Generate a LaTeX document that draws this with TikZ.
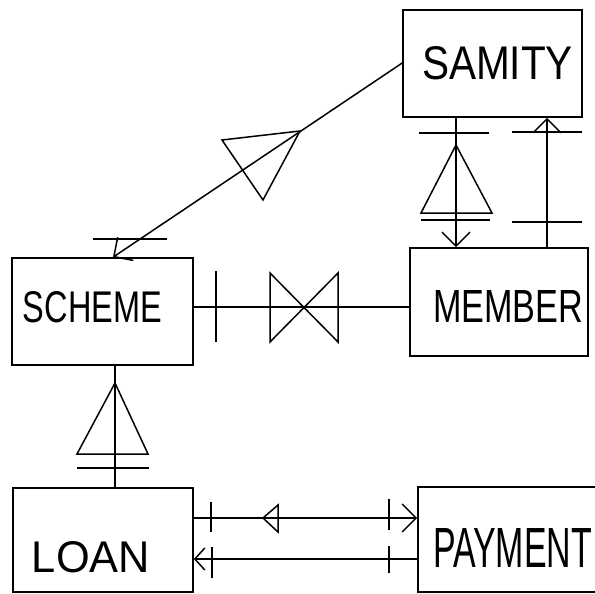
\documentclass[tikz,border=0pt]{standalone}
\usepackage{fontspec}
\setmainfont{Liberation Sans}
\usepackage{graphicx}
\usetikzlibrary{arrows.meta,calc}
\tikzset{
  ent/.style={draw=black, line width=1.6pt, rectangle, inner sep=0pt},
  lbl/.style={inner sep=0pt, anchor=center, font=\fontsize{40}{40}\selectfont},
  con/.style={line width=1.5pt, draw=black},
  arr/.style={con, -{Straight Barb[length=14pt,width=28pt,line width=1.5pt]}},
  sarr/.style={con, -{Straight Barb[length=10pt,width=22pt,line width=1.5pt]}},
  symb/.style={line width=1.5pt, draw=black},
}
\newcommand{\hw}[3]{\resizebox{#1pt}{#2pt}{#3}}
\begin{document}
\begin{tikzpicture}[x=1pt,y=-1pt]
\useasboundingbox (0,0) rectangle (595,594);
% entities
\node[ent, minimum width=179pt, minimum height=107pt] (samity) at (492.5,63.5) {};
\node[ent, minimum width=181pt, minimum height=107pt] (scheme) at (102.5,311.5) {};
\node[ent, minimum width=178pt, minimum height=108pt] (member) at (499,302) {};
\node[ent, minimum width=180pt, minimum height=104pt] (loan) at (103,540) {};
\node[ent, minimum width=190pt, minimum height=105pt] (payment) at (513,539.5) {};
% labels
\node[lbl] (samityL) at (497.5,63.5) {\hw{151}{33}{SAMITY}};
\node[lbl] (schemeL) at (92.5,307.5) {\hw{139}{31}{SCHEME}};
\node[lbl] (memberL) at (508,306) {\hw{150}{32}{MEMBER}};
\node[lbl] (loanL) at (91,557.5) {\hw{118}{31}{LOAN}};
\node[lbl] (paymentL) at (512.5,547.5) {\hw{159}{39}{PAYMENT}};
% helper coordinates
\coordinate (sa) at (403,63);
\coordinate (sb) at (113,258);
\coordinate (xl) at (456,0);
\coordinate (xr) at (547,0);
\coordinate (ys) at (0,307);
\coordinate (xd) at (115,0);
\coordinate (yu) at (0,518);
\coordinate (yd) at (0,559);
% SAMITY -> SCHEME
\draw[arr] (samity.west |- sa) -- (scheme.north -| sb);
\draw[symb] (300,131) -- (222,140) -- (263,200) -- cycle;
\draw[symb] (93,239) -- (167,239);
% SAMITY -> MEMBER (left)
\draw[arr] (samity.south -| xl) -- (member.north -| xl);
\draw[symb] (419,133) -- (489,133);
\draw[symb] (456,145) -- (421,213) -- (492,213) -- cycle;
\draw[symb] (421,220) -- (490,220);
% MEMBER -> SAMITY (right)
\draw[arr] (member.north -| xr) -- (samity.south -| xr);
\draw[symb] (512,132) -- (582,132);
\draw[symb] (512,222) -- (582,222);
% SCHEME -- MEMBER
\draw[con] (scheme.east |- ys) -- (member.west |- ys);
\draw[symb] (216,271) -- (216,342);
\draw[symb] (270,273) -- (270,342) -- (338,273) -- (338,342) -- cycle;
% SCHEME -- LOAN
\draw[con] (scheme.south -| xd) -- (loan.north -| xd);
\draw[symb] (115,383) -- (77,454) -- (148,454) -- cycle;
\draw[symb] (77,468) -- (149,468);
% LOAN -> PAYMENT
\draw[arr] (loan.east |- yu) -- (payment.west |- yu);
\draw[symb] (211,502) -- (211,532);
\draw[symb] (263,518) -- (278,505) -- (278,532) -- cycle;
\draw[symb] (389,499) -- (389,530);
% PAYMENT -> LOAN
\draw[sarr] (payment.west |- yd) -- (loan.east |- yd);
\draw[symb] (212,547) -- (212,578);
\draw[symb] (389,546) -- (389,573);
\end{tikzpicture}
\end{document}
